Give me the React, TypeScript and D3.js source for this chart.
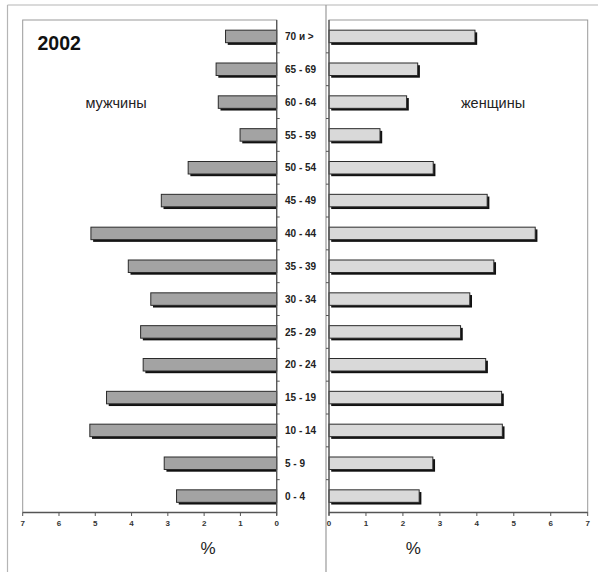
import React from "react";
import * as d3 from "d3";

const categories = ["70 и >", "65 - 69", "60 - 64", "55 - 59", "50 - 54", "45 - 49", "40 - 44", "35 - 39", "30 - 34", "25 - 29", "20 - 24", "15 - 19", "10 - 14", "5 - 9", "0 - 4"];
const men = [1.41, 1.67, 1.61, 1.01, 2.44, 3.18, 5.12, 4.09, 3.47, 3.75, 3.68, 4.69, 5.15, 3.1, 2.76];
const women = [3.95, 2.4, 2.1, 1.38, 2.82, 4.28, 5.58, 4.46, 3.81, 3.56, 4.24, 4.67, 4.69, 2.81, 2.44];
const ticks = [0, 1, 2, 3, 4, 5, 6, 7];
const title = "2002";
const menLabel = "мужчины";
const womenLabel = "женщины";

export default function App() {
  const W = 598, H = 572;
  const top = 20, bottom = 512.5;
  const xL = d3.scaleLinear().domain([0, 7]).range([276.7, 22.7]);
  const xR = d3.scaleLinear().domain([0, 7]).range([329, 587.7]);
  const y = d3.scaleBand<string>().domain(categories).range([top, bottom]);
  const bw = y.bandwidth();
  const bh = 12.5;
  const sh = 2.2;
  const font = "'Liberation Sans', Arial, sans-serif";

  return (
    <svg width={W} height={H} style={{ position: "absolute", left: 0, top: 0, background: "#fff" }} fontFamily={font}>
      {/* outer frame */}
      <line x1={7.5} y1={5} x2={W} y2={5} stroke="#b5b5b5" strokeWidth={1.2} />
      <line x1={7.5} y1={5} x2={7.5} y2={H} stroke="#b5b5b5" strokeWidth={1.2} />
      <line x1={326} y1={5} x2={326} y2={H} stroke="#9a9a9a" strokeWidth={1.2} />

      {/* plot boxes */}
      <rect x={xL(7)} y={top} width={xL(0) - xL(7)} height={bottom - top} fill="none" stroke="#9a9a9a" strokeWidth={1} />
      <rect x={xR(0)} y={top} width={xR(7) - xR(0)} height={bottom - top} fill="none" stroke="#9a9a9a" strokeWidth={1} />

      {/* bars men */}
      {categories.map((c, i) => {
        const x0 = xL(men[i]);
        const yy = (y(c) as number) + (bw - bh) / 2;
        return (
          <g key={"m" + c}>
            <rect x={x0 + sh} y={yy + sh} width={xL(0) - x0 - sh} height={bh} fill="#111" />
            <rect x={x0} y={yy} width={xL(0) - x0} height={bh} fill="#a3a3a3" stroke="#2a2a2a" strokeWidth={1} />
          </g>
        );
      })}
      {/* bars women */}
      {categories.map((c, i) => {
        const x1 = xR(women[i]);
        const yy = (y(c) as number) + (bw - bh) / 2;
        return (
          <g key={"w" + c}>
            <rect x={xR(0) + sh} y={yy + sh} width={x1 - xR(0)} height={bh} fill="#111" />
            <rect x={xR(0)} y={yy} width={x1 - xR(0)} height={bh} fill="#d9d9d9" stroke="#2a2a2a" strokeWidth={1} />
          </g>
        );
      })}

      {/* category axes */}
      <line x1={xL(0)} y1={top} x2={xL(0)} y2={bottom + 3} stroke="#555" strokeWidth={1.3} />
      <line x1={xR(0)} y1={top} x2={xR(0)} y2={bottom + 3} stroke="#555" strokeWidth={1.3} />
      {categories.map((c, i) =>
        i === 0 ? null : (
          <g key={"t" + c}>
            <line x1={xL(0)} x2={xL(0) + 3} y1={y(c) as number} y2={y(c) as number} stroke="#555" strokeWidth={1} />
            <line x1={xR(0)} x2={xR(0) - 3} y1={y(c) as number} y2={y(c) as number} stroke="#555" strokeWidth={1} />
          </g>
        )
      )}
      {categories.map((c) => (
        <text key={"l" + c} x={285} y={(y(c) as number) + bw / 2} dy="0.36em" fontSize={10} fontWeight="bold" fill="#222">
          {c}
        </text>
      ))}

      {/* value axes */}
      <line x1={xL(7)} x2={xL(0)} y1={bottom} y2={bottom} stroke="#555" strokeWidth={1.3} />
      <line x1={xR(0)} x2={xR(7)} y1={bottom} y2={bottom} stroke="#555" strokeWidth={1.3} />
      {ticks.map((t) => (
        <g key={"x" + t}>
          <line x1={xL(t)} x2={xL(t)} y1={bottom} y2={bottom + 3.5} stroke="#555" strokeWidth={1} />
          <line x1={xR(t)} x2={xR(t)} y1={bottom} y2={bottom + 3.5} stroke="#555" strokeWidth={1} />
          <text x={xL(t)} y={523} dy="0.35em" textAnchor="middle" fontSize={8} fontWeight="bold" fill="#333">{t}</text>
          <text x={xR(t)} y={523} dy="0.35em" textAnchor="middle" fontSize={8} fontWeight="bold" fill="#333">{t}</text>
        </g>
      ))}
      <text x={208} y={554} textAnchor="middle" fontSize={17} fill="#222">%</text>
      <text x={413.3} y={554} textAnchor="middle" fontSize={17} fill="#222">%</text>

      {/* labels */}
      <text x={37.5} y={49.5} fontSize={19.5} fontWeight="bold" fill="#111">{title}</text>
      <text x={116} y={103} dy="0.35em" textAnchor="middle" fontSize={14.5} fill="#222">{menLabel}</text>
      <text x={493} y={103} dy="0.35em" textAnchor="middle" fontSize={14.5} fill="#222">{womenLabel}</text>
    </svg>
  );
}
